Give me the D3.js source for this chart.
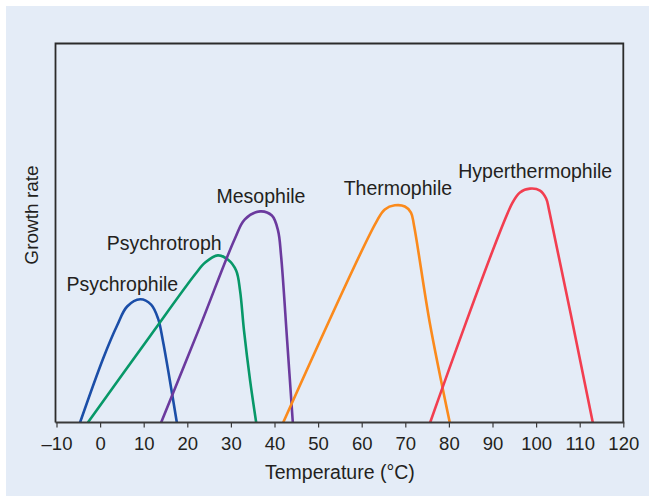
<!DOCTYPE html>
<html>
<head>
<meta charset="utf-8">
<script src="https://cdn.jsdelivr.net/npm/d3@7"></script>
<style>
  body { margin: 0; background: #ffffff; }
  svg { display: block; font-family: "Liberation Sans", Arial, Helvetica, sans-serif; }
</style>
</head>
<body>
<div id="chart"></div>
<script>
// Wachstumskurven: [Temperatur °C, relative Wachstumsrate]
const categories = ["Psychrophile", "Psychrotroph", "Mesophile", "Thermophile", "Hyperthermophile"];
const colors = ["#1b4ea8", "#079868", "#6b3a9e", "#fb8a1c", "#f23e50"];

const psychrophile = [[-4.6, 0], [0.7, 16.9], [3.9, 25.6], [6.2, 30.6], [9.2, 32.5], [11.7, 31.1], [13.3, 27.4], [14.4, 21.6], [16.0, 11.1], [17.6, 0]];
const psychrotroph = [[-2.8, 0], [11.4, 22.7], [21.8, 39.1], [24.1, 42.2], [27.0, 44.1], [29.3, 43.0], [31.2, 40.1], [32.1, 34.8], [33.0, 24.3], [34.4, 11.1], [35.8, 0]];
const mesophile = [[14.0, 0], [22.9, 25.3], [30.9, 48.5], [33.2, 53.6], [36.7, 55.7], [39.4, 54.6], [40.8, 50.7], [41.5, 44.1], [42.9, 21.6], [44.2, 0]];
const thermophile = [[42.0, 0], [63.3, 52.8], [65.3, 56.2], [67.6, 57.3], [69.9, 57.0], [71.3, 55.4], [72.0, 52.0], [75.6, 26.4], [80.2, 0]];
const hyperthermophile = [[75.7, 0], [94.5, 57.8], [96.3, 60.7], [98.6, 61.7], [100.9, 61.2], [102.3, 59.1], [103.0, 55.9], [113.0, 0]];

// Position der Beschriftungen (Temperatur, Wachstum der Grundlinie)
const labelPos = [[5.1, 34.6], [14.7, 45.6], [36.9, 58.0], [68.3, 60.1], [99.8, 64.6]];

const xTicks = [-10, 0, 10, 20, 30, 40, 50, 60, 70, 80, 90, 100, 110, 120];

const series = [psychrophile, psychrotroph, mesophile, thermophile, hyperthermophile];

const width = 655, height = 502;
const plot = { left: 56.5, right: 623.3, top: 43.5, bottom: 422.5 };

const svg = d3.select("#chart").append("svg")
    .attr("width", width)
    .attr("height", height);

// Hintergrund
svg.append("rect")
    .attr("x", 6).attr("y", 6)
    .attr("width", 643).attr("height", 490)
    .attr("fill", "#e4ecf7");

const x = d3.scaleLinear().domain([-10, 120]).range([plot.left, plot.right]);
const y = d3.scaleLinear().domain([0, 100]).range([plot.bottom, plot.top]);

// Rahmen (links, oben, rechts)
svg.append("path")
    .attr("d", `M${plot.left - 1},${plot.bottom} V${plot.top} H${plot.right} V${plot.bottom}`)
    .attr("fill", "none")
    .attr("stroke", "#2b2b2b")
    .attr("stroke-width", 1.8);

const line = d3.line()
    .x(d => x(d[0]))
    .y(d => y(d[1]))
    .curve(d3.curveCatmullRom.alpha(0.5));

svg.selectAll(".curve")
    .data(series)
    .enter()
    .append("path")
    .attr("class", "curve")
    .attr("d", line)
    .attr("fill", "none")
    .attr("stroke", (d, i) => colors[i])
    .attr("stroke-width", 2.6)
    .attr("stroke-linejoin", "round");

// Achse unten
const xAxis = d3.axisBottom(x)
    .tickValues(xTicks)
    .tickSizeInner(5)
    .tickSizeOuter(0)
    .tickPadding(9)
    .tickFormat(d => d < 0 ? "\u2013" + Math.abs(d) : d);

const gx = svg.append("g")
    .attr("transform", `translate(0,${plot.bottom})`)
    .call(xAxis);

gx.select(".domain")
    .attr("stroke", "#3a3a3a")
    .attr("stroke-width", 1.8)
    .attr("d", `M${plot.left - 1},0 H${plot.right + 1}`);
gx.selectAll(".tick line").attr("stroke", "#3a3a3a").attr("stroke-width", 1.2);
gx.selectAll(".tick text")
    .attr("fill", "#231f20")
    .style("font-size", "18.5px")
    .style("font-family", "'Liberation Sans', Arial, sans-serif");

// Achsentitel
svg.append("text")
    .attr("x", (plot.left + plot.right) / 2)
    .attr("y", 479)
    .attr("text-anchor", "middle")
    .attr("fill", "#231f20")
    .style("font-size", "19.5px")
    .text("Temperature (\u00b0C)");

svg.append("text")
    .attr("transform", `translate(38,215) rotate(-90)`)
    .attr("text-anchor", "middle")
    .attr("fill", "#231f20")
    .style("font-size", "19px")
    .text("Growth rate");

// Kurvenbeschriftungen
svg.selectAll(".label")
    .data(categories)
    .enter()
    .append("text")
    .attr("class", "label")
    .attr("x", (d, i) => x(labelPos[i][0]))
    .attr("y", (d, i) => y(labelPos[i][1]))
    .attr("text-anchor", "middle")
    .attr("fill", "#231f20")
    .style("font-size", "19.5px")
    .text(d => d);
</script>
</body>
</html>
